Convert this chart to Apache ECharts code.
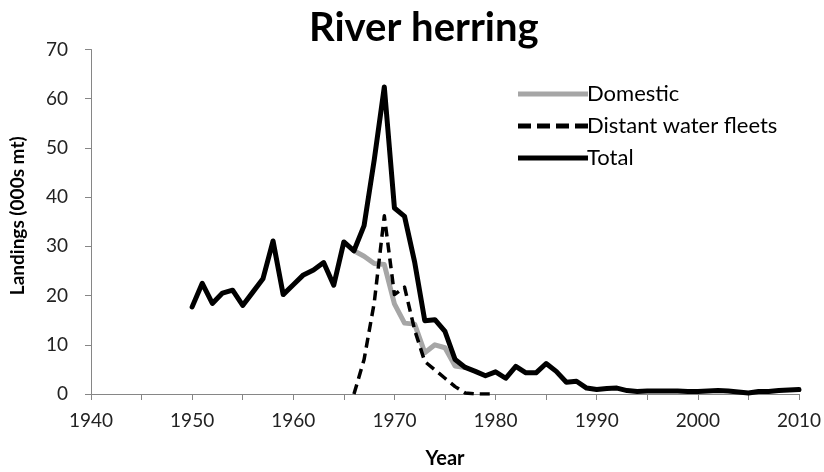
<!DOCTYPE html>
<html>
<head>
<meta charset="utf-8">
<script src="https://cdn.jsdelivr.net/npm/echarts@6/dist/echarts.min.js"></script>
<style>
  html, body { margin: 0; padding: 0; background: #fff; }
  #chart { width: 824px; height: 472px; }
</style>
</head>
<body>
<div id="chart"></div>
<script>
// River herring landings (thousand metric tons) by year
const totalYears = [];
for (let y = 1950; y <= 2010; y++) totalYears.push(y);
const totalValues = [
  17.7, 22.5, 18.4, 20.5, 21.1, 18.0, 20.7, 23.4, 31.1, 20.2,
  22.2, 24.2, 25.2, 26.7, 22.1, 30.9, 29.1, 34.2, 47.5, 62.4,
  37.8, 36.1, 26.8, 14.9, 15.1, 12.7, 7.0, 5.4, 4.6, 3.7,
  4.5, 3.2, 5.6, 4.3, 4.3, 6.2, 4.6, 2.4, 2.6, 1.2,
  0.9, 1.1, 1.2, 0.7, 0.5, 0.6, 0.6, 0.6, 0.6, 0.5,
  0.5, 0.6, 0.7, 0.6, 0.4, 0.2, 0.5, 0.5, 0.7, 0.8,
  0.9
];

const domesticYears = [1966, 1967, 1968, 1969, 1970, 1971, 1972, 1973, 1974, 1975, 1976, 1977];
const domesticValues = [29.1, 28.0, 26.5, 26.3, 18.3, 14.4, 14.2, 8.4, 10.0, 9.4, 5.7, 5.4];

const distantYears = [1966, 1967, 1968, 1969, 1970, 1971, 1972, 1973, 1974, 1975, 1976, 1977, 1978, 1979, 1980];
const distantValues = [0, 7.0, 18.5, 36.2, 20.2, 21.7, 13.0, 6.6, 4.9, 3.2, 1.5, 0.2, 0, 0, 0];

const seriesNames = ['Domestic', 'Distant water fleets', 'Total'];
const xTickLabels = [1940, 1950, 1960, 1970, 1980, 1990, 2000, 2010];
const yTickLabels = [0, 10, 20, 30, 40, 50, 60, 70];

const pairs = (xs, vs) => xs.map((x, i) => [x, vs[i]]);

const FONT = 'Lato';
const axisGray = '#868686';

// legend keys: a solid bar and a row of four dashes
const solidKey = 'path://M0,0h70v5h-70z';
const dashedKey = 'path://M0,0h13v5h-13z M19,0h13v5h-13z M38,0h13v5h-13z M57,0h13v5h-13z';

const chart = echarts.init(document.getElementById('chart'), null, { renderer: 'canvas' });
chart.setOption({
  animation: false,
  backgroundColor: '#ffffff',
  title: {
    text: 'River herring',
    left: 304,
    top: 3,
    textStyle: { fontFamily: FONT, fontSize: 40, fontWeight: 'bold', color: '#000' }
  },
  legend: {
    orient: 'vertical',
    left: 513,
    top: 78,
    itemWidth: 70,
    itemHeight: 5,
    itemGap: 10,
    data: [
      { name: seriesNames[0], icon: solidKey, itemStyle: { color: '#a6a6a6' } },
      { name: seriesNames[1], icon: dashedKey, itemStyle: { color: '#000' } },
      { name: seriesNames[2], icon: solidKey, itemStyle: { color: '#000' } }
    ],
    textStyle: { fontFamily: FONT, fontSize: 22, color: '#000', padding: [0, 0, 0, -6] }
  },
  grid: { left: 91, right: 25, top: 49.5, bottom: 78, outerBoundsMode: 'none' },
  xAxis: {
    type: 'value',
    min: 1940,
    max: 2010,
    interval: 5,
    name: 'Year',
    nameLocation: 'middle',
    nameGap: 55,
    nameTextStyle: { fontFamily: FONT, fontSize: 20, fontWeight: 'bold', color: '#000' },
    axisLine: { show: true, lineStyle: { color: axisGray, width: 1 } },
    axisTick: { show: true, inside: false, length: 6, lineStyle: { color: axisGray } },
    splitLine: { show: false },
    axisLabel: {
      fontFamily: FONT, fontSize: 19, color: '#222', margin: 17,
      formatter: v => (xTickLabels.indexOf(v) >= 0 ? String(v) : '')
    }
  },
  yAxis: {
    type: 'value',
    min: 0,
    max: 70,
    interval: 10,
    name: 'Landings (000s mt)',
    nameLocation: 'middle',
    nameGap: 64,
    nameRotate: 90,
    nameTextStyle: { fontFamily: FONT, fontSize: 19, fontWeight: 'bold', color: '#000', padding: [0, 0, 0, 12] },
    axisLine: { show: true, lineStyle: { color: axisGray, width: 1 } },
    axisTick: { show: true, inside: false, length: 6, lineStyle: { color: axisGray } },
    splitLine: { show: false },
    axisLabel: {
      fontFamily: FONT, fontSize: 19, color: '#222', margin: 23,
      formatter: v => (yTickLabels.indexOf(v) >= 0 ? String(v) : '')
    }
  },
  series: [
    {
      name: seriesNames[0],
      type: 'line',
      data: pairs(domesticYears, domesticValues),
      showSymbol: false,
      symbol: 'none',
      lineStyle: { color: '#a6a6a6', width: 5, join: 'round', cap: 'round' },
      itemStyle: { color: '#a6a6a6' }
    },
    {
      name: seriesNames[1],
      type: 'line',
      data: pairs(distantYears, distantValues),
      showSymbol: false,
      symbol: 'none',
      lineStyle: { color: '#000', width: 3.5, type: [10, 6], join: 'round' },
      itemStyle: { color: '#000' }
    },
    {
      name: seriesNames[2],
      type: 'line',
      data: pairs(totalYears, totalValues),
      showSymbol: false,
      symbol: 'none',
      lineStyle: { color: '#000', width: 5, join: 'round', cap: 'round' },
      itemStyle: { color: '#000' }
    }
  ]
});
</script>
</body>
</html>
